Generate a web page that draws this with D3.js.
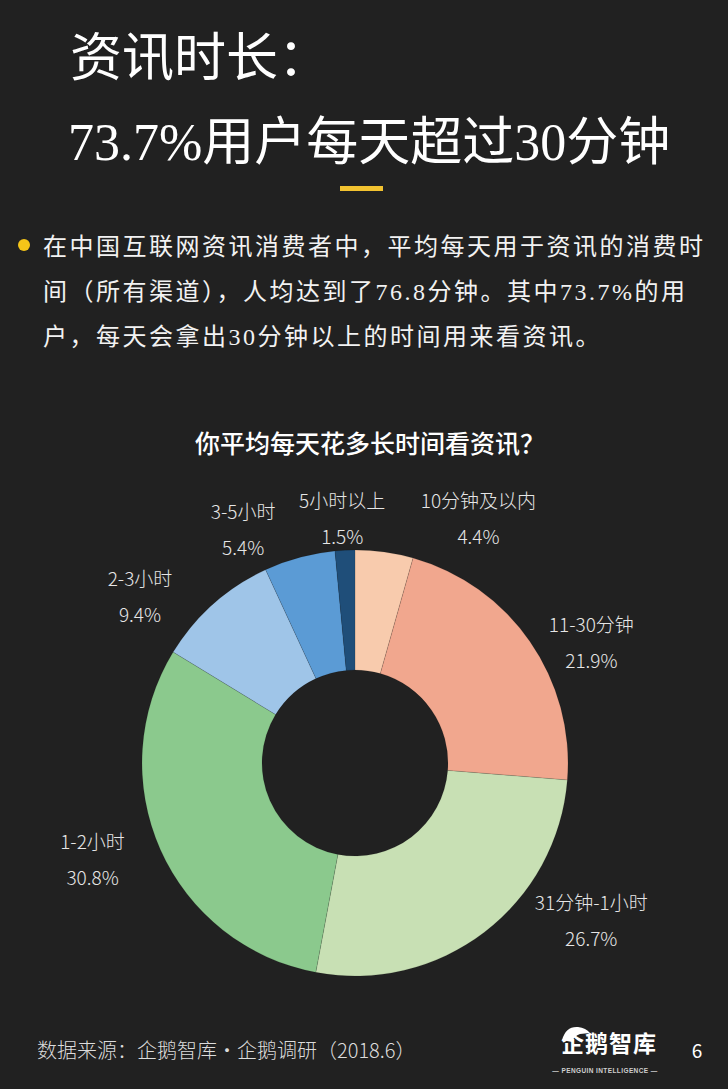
<!DOCTYPE html>
<html lang="zh">
  <head>
    <meta charset="UTF-8" />
    <title>资讯时长</title>
    <style>
      html, body { margin: 0; padding: 0; background: #212121; }
      svg { display: block; }
    </style>
  </head>
  <body>
    <script src="https://cdn.jsdelivr.net/npm/d3@7"></script>
    <script>

    // chart data (clockwise from 12 o'clock)
    var categories = ["10分钟及以内", "11-30分钟", "31分钟-1小时", "1-2小时", "2-3小时", "3-5小时", "5小时以上"];
    var shares = [4.4, 21.9, 26.7, 30.8, 9.4, 5.4, 1.5];

    var titleLines = ["资讯时长：", "73.7%用户每天超过30分钟"];
    var bulletLines = [
      "在中国互联网资讯消费者中，平均每天用于资讯的消费时",
      "间（所有渠道），人均达到了76.8分钟。其中73.7%的用",
      "户，每天会拿出30分钟以上的时间用来看资讯。"
    ];
    var chartTitle = "你平均每天花多长时间看资讯？";
    var sourceText = "数据来源：企鹅智库·企鹅调研（2018.6）";
    var pageNumber = "6";

    var serifFont = "'Liberation Serif', 'Noto Sans CJK SC', serif",
        sansFont = "'Noto Sans CJK SC', 'Noto Sans', sans-serif";

    var w = 728,
        h = 1089;

    var svg = d3.select("body").append("svg")
      .attr("width", w)
      .attr("height", h);

    svg.append("rect")
      .attr("width", w)
      .attr("height", h)
      .attr("fill", "#212121");

    // big heading
    svg.selectAll(".title-line")
      .data(titleLines)
      .enter()
      .append("text")
      .attr("class", "title-line")
      .attr("x", function(d, i) { return i === 0 ? 70 : 68; })
      .attr("y", function(d, i) { return i === 0 ? 76 : 160; })
      .attr("fill", "#ffffff")
      .attr("font-family", serifFont)
      .attr("font-size", 52)
      .text(function(d) { return d; });

    // yellow divider under the heading
    svg.append("rect")
      .attr("x", 340)
      .attr("y", 186)
      .attr("width", 43)
      .attr("height", 5)
      .attr("fill", "#f2c230");

    // bullet paragraph
    svg.append("circle")
      .attr("cx", 24)
      .attr("cy", 245)
      .attr("r", 6)
      .attr("fill", "#f5c518");

    svg.selectAll(".bullet-line")
      .data(bulletLines)
      .enter()
      .append("text")
      .attr("class", "bullet-line")
      .attr("x", 43)
      .attr("y", function(d, i) { return 255 + i * 45; })
      .attr("fill", "#f2f2f2")
      .attr("font-family", serifFont)
      .attr("font-size", 24)
      .attr("letter-spacing", 2.5)
      .text(function(d) { return d; });

    // chart title
    svg.append("text")
      .attr("x", 370)
      .attr("y", 453)
      .attr("text-anchor", "middle")
      .attr("fill", "#ffffff")
      .attr("font-family", sansFont)
      .attr("font-size", 25)
      .attr("font-weight", 500)
      .text(chartTitle);

    // doughnut
    var cx = 355,
        cy = 763,
        outerR = 213,
        innerR = 93,
        labelR = 272;

    var color = d3.scaleOrdinal()
      .domain(categories)
      .range(["#f8cbad", "#f1a78e", "#c8e0b4", "#8bc98d", "#9fc5e8", "#5b9bd5", "#1f4e79"]);

    var pie = d3.pie()
      .sort(null)
      .value(function(d) { return d.value; });

    var arcs = pie(categories.map(function(c, i) {
      return { name: c, value: shares[i] };
    }));

    var arc = d3.arc()
      .innerRadius(innerR)
      .outerRadius(outerR);

    var labelArc = d3.arc()
      .innerRadius(labelR)
      .outerRadius(labelR);

    var g = svg.append("g")
      .attr("transform", "translate(" + cx + "," + cy + ")");

    g.selectAll("path")
      .data(arcs)
      .enter()
      .append("path")
      .attr("d", arc)
      .attr("fill", function(d) { return color(d.data.name); })
      .attr("stroke", "rgba(0,0,0,0.18)")
      .attr("stroke-width", 0.6);

    // labels were hand placed in the original, so nudge them off the centroid
    var labelNudge = [[86, 25], [13, 35], [71, -58], [-14, -14], [-34, 37], [-41, 30], [0, 28]];

    var labels = g.selectAll(".slice-label")
      .data(arcs)
      .enter()
      .append("text")
      .attr("class", "slice-label")
      .attr("text-anchor", "middle")
      .attr("fill", "#e6e6e6")
      .attr("font-family", sansFont)
      .attr("font-size", 19)
      .attr("font-weight", 300)
      .attr("transform", function(d, i) {
        var c = labelArc.centroid(d);
        return "translate(" + (c[0] + labelNudge[i][0]) + "," + (c[1] + labelNudge[i][1]) + ")";
      });

    labels.append("tspan")
      .attr("x", 0)
      .attr("y", -11)
      .text(function(d) { return d.data.name; });

    labels.append("tspan")
      .attr("x", 0)
      .attr("y", 25)
      .text(function(d) { return d.data.value.toFixed(1) + "%"; });

    // footer
    svg.append("text")
      .attr("x", 37)
      .attr("y", 1058)
      .attr("fill", "#dcdcdc")
      .attr("font-family", sansFont)
      .attr("font-size", 20)
      .attr("font-weight", 300)
      .text(sourceText);

    // logo: penguin head peeking over the first character
    svg.append("path")
      .attr("d", "M562,1040 Q566,1026 578,1027 Q586,1028 590,1033 L580,1034 Q574,1036 572,1042 Z")
      .attr("fill", "#ffffff");

    svg.append("text")
      .attr("x", 609)
      .attr("y", 1052)
      .attr("text-anchor", "middle")
      .attr("fill", "#ffffff")
      .attr("font-family", sansFont)
      .attr("font-size", 23)
      .attr("font-weight", 700)
      .attr("letter-spacing", 1)
      .text("企鹅智库");

    svg.append("text")
      .attr("x", 605)
      .attr("y", 1073)
      .attr("text-anchor", "middle")
      .attr("fill", "#cfcfcf")
      .attr("font-family", "'Liberation Sans', Arial, sans-serif")
      .attr("font-size", 6.5)
      .attr("font-weight", 700)
      .attr("letter-spacing", 0.4)
      .text("— PENGUIN INTELLIGENCE —");

    svg.append("text")
      .attr("x", 697)
      .attr("y", 1058)
      .attr("text-anchor", "middle")
      .attr("fill", "#ffffff")
      .attr("font-family", sansFont)
      .attr("font-size", 19)
      .text(pageNumber);

    </script>
  </body>
</html>
